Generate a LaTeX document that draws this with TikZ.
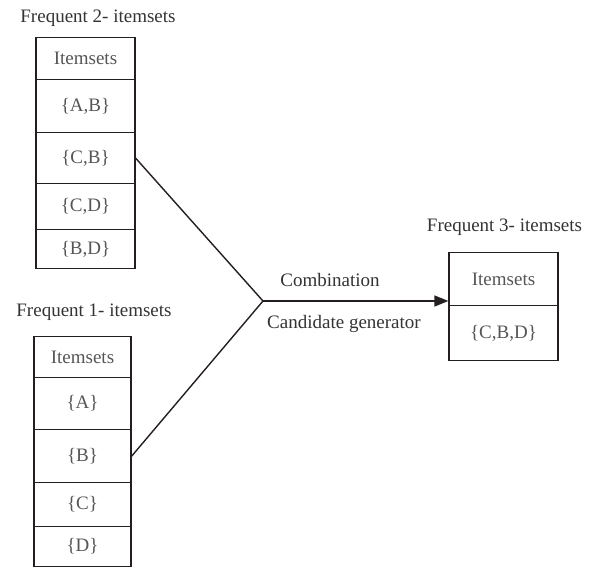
\documentclass[tikz,border=0pt]{standalone}
\usepackage{fontspec}
\setmainfont{Liberation Serif}
\usepackage{tikz}
\usetikzlibrary{positioning, arrows.meta}

\definecolor{edge}{HTML}{231F20}
\definecolor{celltext}{HTML}{555555}
\definecolor{titletext}{HTML}{333333}

\begin{document}
\begin{tikzpicture}
        [
            x=1pt, y=-1pt,
            every node/.style={font=\fontsize{19}{23}\selectfont},
            cell/.style={rectangle, draw=edge, line width=1.3pt, inner sep=0pt,
                         text=celltext, anchor=north},
            title/.style={text=titletext, inner sep=0pt},
            link/.style={draw=edge, line width=1.4pt}
        ]
        \useasboundingbox (0,0) rectangle (591,567);
        % frequent 2-itemsets
        \node (t2) [title] at (98,18) {Frequent 2- itemsets};
        \foreach \n/\y/\h/\t in {h/37/42/Itemsets, ab/79/53/{\{A,B\}},
                                 cb/132/51/{\{C,B\}}, cd/183/46/{\{C,D\}},
                                 bd/229/39/{\{B,D\}}}
            \node (two-\n) [cell, minimum width=99pt, minimum height=\h pt]
                  at (85.5,\y) {\t};
        % frequent 1-itemsets
        \node (t1) [title] at (94,312) {Frequent 1- itemsets};
        \foreach \n/\y/\h/\t in {h/336/41/Itemsets, a/377/52/{\{A\}},
                                 b/429/53/{\{B\}}, c/482/44/{\{C\}},
                                 d/526/40/{\{D\}}}
            \node (one-\n) [cell, minimum width=97pt, minimum height=\h pt]
                  at (82.5,\y) {\t};
        % frequent 3-itemsets
        \node (t3) [title] at (504.5,227) {Frequent 3- itemsets};
        \foreach \n/\y/\h/\t in {h/252/53/Itemsets, cbd/305/55/{\{C,B,D\}}}
            \node (three-\n) [cell, minimum width=109pt, minimum height=\h pt]
                  at (503.5,\y) {\t};
        % combination
        \coordinate (join) at (263,301);
        \draw [link] (two-cb.east) -- (join);
        \draw [link] (one-b.east) -- (join);
        \draw [link, -{Triangle[length=14pt, width=11pt]}] (join)
              -- (join -| three-h.west);
        \node (comb) [title] at (330,280) {Combination};
        \node (cand) [title] at (344,324) {Candidate generator};
    \end{tikzpicture}
\end{document}
